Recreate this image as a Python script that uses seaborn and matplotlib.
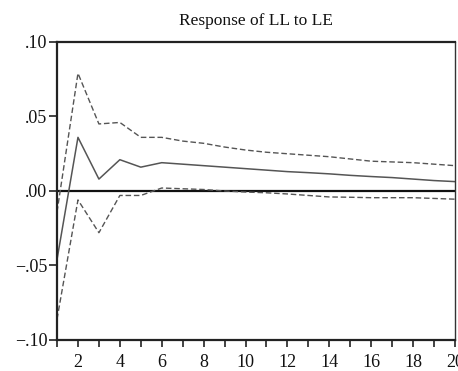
import numpy as np
import pandas as pd
import matplotlib
matplotlib.use("Agg")
import matplotlib.pyplot as plt
import seaborn as sns

sns.set_theme(style="ticks")
plt.rcParams['font.family'] = ['Liberation Serif', 'DejaVu Serif']
plt.rcParams['axes.unicode_minus'] = True

# Impulse response values
periods = list(range(1, 21))
response = [-0.046, 0.036, 0.008, 0.021, 0.016, 0.019, 0.018, 0.017, 0.016, 0.015,
            0.014, 0.013, 0.0123, 0.0115, 0.0105, 0.0097, 0.009, 0.008, 0.007, 0.0063]
upper = [-0.014, 0.079, 0.045, 0.046, 0.036, 0.036, 0.0335, 0.032, 0.0295, 0.0275,
         0.026, 0.025, 0.024, 0.023, 0.0215, 0.020, 0.0195, 0.019, 0.018, 0.017]
lower = [-0.086, -0.006, -0.028, -0.003, -0.003, 0.002, 0.0015, 0.001, 0.0, -0.0007,
         -0.0012, -0.002, -0.003, -0.004, -0.0042, -0.0045, -0.0045, -0.0045, -0.005, -0.0055]

ytick_vals = [-0.10, -0.05, 0.00, 0.05, 0.10]
ytick_labels = ['\u2212.10', '\u2212.05', '.00', '.05', '.10']
xtick_vals = list(range(2, 21, 2))

df = pd.DataFrame({'period': periods, 'response': response,
                   'upper': upper, 'lower': lower})

fig = plt.figure(figsize=(4.58, 3.71), dpi=100)
ax = fig.add_axes([0.1245, 0.0836, 0.8689, 0.8032])

ax.axhline(0, color='#111111', linewidth=1.6, zorder=1)
sns.lineplot(data=df, x='period', y='response', ax=ax, color='#555555', linewidth=1.1)
sns.lineplot(data=df, x='period', y='upper', ax=ax, color='#555555', linewidth=1.0,
             linestyle=(0, (4, 2)))
sns.lineplot(data=df, x='period', y='lower', ax=ax, color='#555555', linewidth=1.0,
             linestyle=(0, (4, 2)))

ax.set_xlim(1, 20)
ax.set_ylim(-0.10, 0.10)
ax.set_xticks(periods, minor=True)
ax.set_xticks(xtick_vals)
ax.set_xticklabels([str(v) for v in xtick_vals])
ax.set_yticks(ytick_vals)
ax.set_yticklabels(ytick_labels)
ax.tick_params(axis='both', which='both', direction='out', color='#222222',
               labelsize=13, labelcolor='#111111', width=1.2)
ax.tick_params(axis='x', which='both', length=5, pad=5)
ax.tick_params(axis='y', length=6, pad=1)
ax.set_xlabel('')
ax.set_ylabel('')

for side in ['left', 'bottom', 'top']:
    ax.spines[side].set_color('#222222')
    ax.spines[side].set_linewidth(1.6)
ax.spines['right'].set_color('#333333')
ax.spines['right'].set_linewidth(1.0)

ax.set_title('Response of LL to LE', fontsize=12.5, pad=12, color='#111111')

fig.savefig('out.png', dpi=100, facecolor='white')
